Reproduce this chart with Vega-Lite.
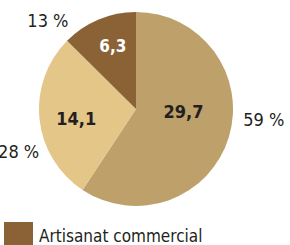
{
  "$schema": "https://vega.github.io/schema/vega-lite/v6.json",
  "width": 272,
  "height": 218,
  "autosize": {"type": "none"},
  "padding": {"left": 0, "top": 0, "right": 18, "bottom": 27},
  "background": "white",
  "config": {"view": {"stroke": null}},
  "data": {
    "values": [
      {"secteur": "Artisanat de production", "rang": 1, "valeur": 29.7, "label": "29,7", "pct": "59 %"},
      {"secteur": "Artisanat de services", "rang": 2, "valeur": 14.1, "label": "14,1", "pct": "28 %"},
      {"secteur": "Artisanat commercial", "rang": 3, "valeur": 6.3, "label": "6,3", "pct": "13 %"}
    ]
  },
  "encoding": {
    "theta": {"field": "valeur", "type": "quantitative", "stack": true},
    "order": {"field": "rang", "type": "quantitative"}
  },
  "layer": [
    {
      "mark": {"type": "arc", "radius": 97, "stroke": null},
      "encoding": {
        "color": {
          "field": "secteur",
          "type": "nominal",
          "scale": {
            "domain": ["Artisanat de production", "Artisanat de services", "Artisanat commercial"],
            "range": ["#BDA06A", "#E3C688", "#8A6236"]
          },
          "legend": {
            "orient": "none",
            "legendX": 4,
            "legendY": 222,
            "title": null,
            "values": ["Artisanat commercial"],
            "symbolType": "square",
            "symbolSize": 841,
            "symbolStrokeWidth": 0,
            "symbolOpacity": 1,
            "labelFont": "DejaVu Sans Condensed",
            "labelFontSize": 17,
            "labelColor": "#231F20",
            "labelOffset": 6,
            "labelLimit": 300
          }
        }
      }
    },
    {
      "mark": {"type": "text", "radius": 60, "dx": -10, "dy": -13, "font": "DejaVu Sans Condensed", "fontWeight": "bold", "fontSize": 18, "color": "#231F20", "align": "center", "baseline": "middle"},
      "encoding": {"text": {"condition": {"test": "datum.rang === 1", "field": "label", "type": "nominal"}, "value": ""}}
    },
    {
      "mark": {"type": "text", "radius": 60, "dx": 0, "dy": 5, "font": "DejaVu Sans Condensed", "fontWeight": "bold", "fontSize": 18, "color": "#231F20", "align": "center", "baseline": "middle"},
      "encoding": {"text": {"condition": {"test": "datum.rang === 2", "field": "label", "type": "nominal"}, "value": ""}}
    },
    {
      "mark": {"type": "text", "radius": 60, "dx": 0, "dy": -7, "font": "DejaVu Sans Condensed", "fontWeight": "bold", "fontSize": 17, "color": "white", "align": "center", "baseline": "middle"},
      "encoding": {"text": {"condition": {"test": "datum.rang === 3", "field": "label", "type": "nominal"}, "value": ""}}
    },
    {
      "mark": {"type": "text", "radius": 125, "dx": 8, "dy": -24, "font": "DejaVu Sans Condensed", "fontSize": 18, "color": "#231F20", "align": "center", "baseline": "middle"},
      "encoding": {"text": {"condition": {"test": "datum.rang === 1", "field": "pct", "type": "nominal"}, "value": ""}}
    },
    {
      "mark": {"type": "text", "radius": 125, "dx": 7, "dy": 31, "font": "DejaVu Sans Condensed", "fontSize": 18, "color": "#231F20", "align": "center", "baseline": "middle"},
      "encoding": {"text": {"condition": {"test": "datum.rang === 2", "field": "pct", "type": "nominal"}, "value": ""}}
    },
    {
      "mark": {"type": "text", "radius": 125, "dx": -40, "dy": 28, "font": "DejaVu Sans Condensed", "fontSize": 18, "color": "#231F20", "align": "center", "baseline": "middle"},
      "encoding": {"text": {"condition": {"test": "datum.rang === 3", "field": "pct", "type": "nominal"}, "value": ""}}
    }
  ]
}
